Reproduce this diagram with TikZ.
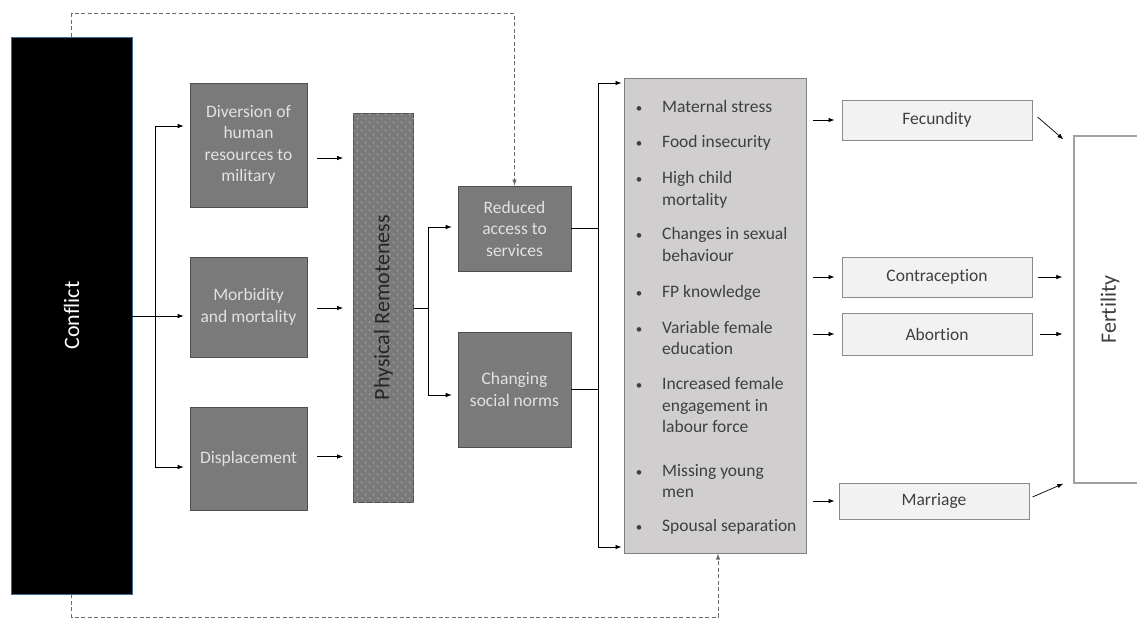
\documentclass[tikz,border=0pt]{standalone}
\usepackage{fontspec}
\setmainfont{Carlito}[Ligatures=NoCommon]
\usetikzlibrary{arrows.meta,patterns.meta,calc}
\definecolor{boxgray}{HTML}{7A7A7A}
\definecolor{boxedge}{HTML}{4F4F4F}
\definecolor{boxtext}{HTML}{E2E2E2}
\definecolor{physgray}{HTML}{7A7A7A}
\definecolor{physdot}{HTML}{ABABAB}
\definecolor{physedge}{HTML}{555555}
\definecolor{listfill}{HTML}{D0CECE}
\definecolor{listedge}{HTML}{7F7F7F}
\definecolor{darktext}{HTML}{3F3F3F}
\definecolor{outfill}{HTML}{F2F2F2}
\definecolor{outedge}{HTML}{8A8A8A}
\definecolor{fertedge}{HTML}{A0A0A0}
\definecolor{dashgray}{HTML}{6A6A6A}
\definecolor{conflictedge}{HTML}{3D6A96}
\tikzdeclarepattern{
  name=mydots,
  type=uncolored,
  bounding box={(0pt,0pt) and (8pt,8pt)},
  tile size={(8pt,8pt)},
  code={\fill (2pt,2pt) circle (1pt); \fill (6pt,6pt) circle (1pt);}
}
\begin{document}
\begin{tikzpicture}[x=1pt,y=-1pt,
  arr/.style={-{Latex[length=6pt,width=4.5pt]}, line width=0.7pt, draw=black},
  ln/.style={line width=0.7pt, draw=black},
  dsh/.style={dash pattern=on 4pt off 2.5pt, line width=0.9pt, draw=dashgray},
  midbox/.style={draw=boxedge, fill=boxgray, text=boxtext, align=center,
    inner sep=0pt, font=\fontsize{17.5}{21.5}\selectfont, line width=0.6pt},
  outbox/.style={draw=outedge, fill=outfill, text=darktext, inner sep=0pt,
    font=\fontsize{17.5}{21.5}\selectfont, line width=1pt},
  itemtxt/.style={inner sep=0pt, text=darktext, font=\fontsize{17.5}{22}\selectfont},
  bigtxt/.style={font=\fontsize{22}{26}\selectfont}
]
\useasboundingbox (0,0) rectangle (1137,619);
\clip (0,0) rectangle (1137,619);

% main boxes
\node[draw=conflictedge, fill=black, text=white, bigtxt, line width=0.8pt,
  minimum width=121pt, minimum height=557pt, inner sep=0pt]
  (conflict) at (71.5,315.5) {\rotatebox{90}{Conflict}};

\node[midbox, minimum width=117pt, minimum height=124pt] (div) at (248.5,145)
  {Diversion of\\human\\resources to\\military};
\node[midbox, minimum width=117pt, minimum height=100pt] (morb) at (248.5,307)
  {Morbidity\\and mortality};
\node[midbox, minimum width=117pt, minimum height=103pt] (disp) at (248.5,458.5)
  {Displacement};

\node[draw=physedge, fill=physgray, line width=0.8pt,
  postaction={pattern=mydots, pattern color=physdot},
  minimum width=60pt, minimum height=389pt, inner sep=0pt]
  (physbox) at (383.5,307.5) {};
\node[text=black!85, bigtxt, inner sep=0pt] (phys) at (383.5,307.5)
  {\rotatebox{90}{Physical Remoteness}};

\node[midbox, minimum width=113pt, minimum height=85pt] (red) at (514.5,228.5)
  {Reduced\\access to\\services};
\node[midbox, minimum width=113pt, minimum height=115pt] (chg) at (514.5,389.5)
  {Changing\\social norms};

\node[draw=listedge, fill=listfill, line width=1pt, minimum width=182pt,
  minimum height=475pt, inner sep=0pt] (list) at (715,315.5) {};

\foreach \yy/\tx/\b [count=\k] in {
  112/Maternal stress/1,
  147/Food insecurity/1,
  183/High child/1,
  205/mortality/0,
  239/Changes in sexual/1,
  261/behaviour/0,
  297/FP knowledge/1,
  333/Variable female/1,
  354/education/0,
  389/Increased female/1,
  411/engagement in/0,
  432/labour force/0,
  476/Missing young/1,
  497/men/0,
  531/Spousal separation/1}{
  \node[itemtxt, anchor=base west] (it\k) at (662,\yy) {\tx};
  \ifnum\b=1 \node[itemtxt, anchor=base, font=\fontsize{13}{16}\selectfont] (bu\k) at (639,\yy) {\textbullet};\fi
}

\node[outbox, minimum width=190pt, minimum height=40pt] (fec) at (937,120) {Fecundity};
\node[outbox, minimum width=190pt, minimum height=40pt] (con) at (937,277) {Contraception};
\node[outbox, minimum width=190pt, minimum height=42pt] (abo) at (937,334) {Abortion};
\node[outbox, minimum width=190pt, minimum height=36pt] (mar) at (934,501) {Marriage};

\node[draw=fertedge, fill=white, line width=1.3pt, text=darktext, bigtxt,
  minimum width=72pt, minimum height=347pt, inner sep=0pt]
  (fert) at (1110,309.5) {\rotatebox{90}{Fertility}};

% conflict -> first column
\coordinate (j1) at (155,316);
\coordinate (j1t) at (155,126);
\coordinate (j1b) at (155,467);
\draw[arr, shorten >=6pt] (conflict.east |- j1) -- (morb.west |- j1);
\draw[arr, shorten >=6pt] (j1) -- (j1t) -- (div.west |- j1t);
\draw[arr, shorten >=6pt] (j1) -- (j1b) -- (disp.west |- j1b);

% first column -> physical remoteness
\coordinate (d1) at ($(div.east)+(0,13)$);
\coordinate (d2) at ($(morb.east)+(0,1)$);
\coordinate (d3) at ($(disp.east)+(0,-2)$);
\draw[arr, shorten <=10pt, shorten >=10pt] (d1) -- (physbox.west |- d1);
\draw[arr, shorten <=10pt, shorten >=10pt] (d2) -- (physbox.west |- d2);
\draw[arr, shorten <=10pt, shorten >=10pt] (d3) -- (physbox.west |- d3);

% physical remoteness -> services / norms
\coordinate (j2) at (428,308);
\coordinate (j2t) at (428,227);
\coordinate (j2b) at (428,395);
\draw[ln] (physbox.east |- j2) -- (j2);
\draw[arr, shorten >=6pt] (j2) -- (j2t) -- (red.west |- j2t);
\draw[arr, shorten >=6pt] (j2) -- (j2b) -- (chg.west |- j2b);

% services / norms -> list
\coordinate (j3t) at (598,83);
\coordinate (j3b) at (598,547);
\draw[ln] (red.east) -- (red.east -| j3t);
\draw[ln] (chg.east) -- (chg.east -| j3t);
\draw[ln] (j3t) -- (j3b);
\draw[arr, shorten >=2pt] (j3t) -- (list.west |- j3t);
\draw[arr, shorten >=2pt] (j3b) -- (list.west |- j3b);

% list -> proximate determinants
\draw[arr, shorten <=6pt, shorten >=7pt] (list.east |- fec.west) -- (fec.west);
\draw[arr, shorten <=6pt, shorten >=7pt] (list.east |- con.west) -- (con.west);
\draw[arr, shorten <=6pt, shorten >=7pt] (list.east |- abo.west) -- (abo.west);
\draw[arr, shorten <=6pt, shorten >=4pt] (list.east |- mar.west) -- (mar.west);

% proximate determinants -> fertility
\draw[arr] ($(fec.east)+(5,-3)$) -- ($(fert.north west)+(-10,4)$);
\draw[arr, shorten <=5pt, shorten >=11pt] (con.east) -- (fert.west |- con.east);
\draw[arr, shorten <=7pt, shorten >=11pt] (abo.east) -- (fert.west |- abo.east);
\draw[arr] ($(mar.east)+(3,-4)$) -- ($(fert.south west)+(-10,0)$);

% dashed feedback paths
\draw[dsh, -{Latex[length=6pt,width=4.5pt]}] (conflict.north) -- ++(0,-23) -| (red.north);
\draw[dsh, -{Latex[length=6pt,width=4.5pt]}] (conflict.south) -- ++(0,23) -| ($(list.south)+(3,0)$);
\end{tikzpicture}
\end{document}
